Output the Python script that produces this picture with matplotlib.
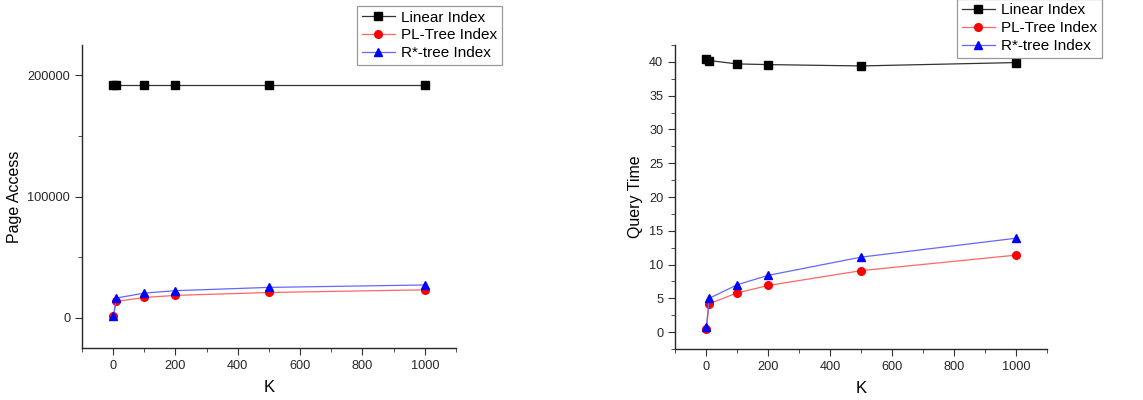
import matplotlib
matplotlib.use("Agg")
import matplotlib.pyplot as plt
from matplotlib.ticker import MultipleLocator

plt.rcParams["font.family"] = ["Liberation Sans", "DejaVu Sans"]

K = [1, 10, 100, 200, 500, 1000]
LABELS = ["Linear Index", "PL-Tree Index", "R*-tree Index"]

# page access
page_linear = [192000, 192000, 192000, 192000, 192000, 192000]
page_pl = [1000, 13400, 16700, 18400, 20800, 23000]
page_rstar = [1500, 16200, 20300, 22300, 25000, 27000]

# query time
time_linear = [40.4, 40.2, 39.7, 39.6, 39.4, 39.9]
time_pl = [0.5, 4.2, 5.8, 6.9, 9.1, 11.4]
time_rstar = [0.7, 5.0, 7.0, 8.4, 11.1, 13.9]

STYLES = [dict(color="#333333", marker="s", mfc="black", mec="black"),
          dict(color="#ff6666", marker="o", mfc="red", mec="red"),
          dict(color="#6666ff", marker="^", mfc="blue", mec="blue")]


def draw(ax, series, ylabel, ylim, major, minor):
    handles = []
    for ys, st, lab in zip(series, STYLES, LABELS):
        h, = ax.plot(K, ys, lw=0.9, ms=5.5, label=lab, **st)
        handles.append(h)
    ax.set_xlim(-100, 1100)
    ax.set_ylim(*ylim)
    ax.xaxis.set_major_locator(MultipleLocator(200))
    ax.xaxis.set_minor_locator(MultipleLocator(100))
    ax.yaxis.set_major_locator(MultipleLocator(major))
    ax.yaxis.set_minor_locator(MultipleLocator(minor))
    for s in ("top", "right"):
        ax.spines[s].set_visible(False)
    for s in ("left", "bottom"):
        ax.spines[s].set_linewidth(1.0)
        ax.spines[s].set_color("0.15")
    ax.tick_params(which="major", direction="out", length=5, labelsize=9.2,
                   color="0.2", labelcolor="0.15")
    ax.tick_params(which="minor", direction="out", length=3, color="0.2")
    ax.set_xlabel("K", fontsize=12, labelpad=6)
    ax.set_ylabel(ylabel, fontsize=11.5)
    return handles


fig = plt.figure(figsize=(11.43, 4.0), dpi=100)
ax1 = fig.add_axes([0.0717, 0.13, 0.3272, 0.7575])
ax2 = fig.add_axes([0.5906, 0.1275, 0.3255, 0.76])

h1 = draw(ax1, [page_linear, page_pl, page_rstar], "Page Access", (-25000, 225000), 100000, 50000)
h2 = draw(ax2, [time_linear, time_pl, time_rstar], "Query Time", (-2.5, 42.5), 5, 2.5)

for handles, anchor in ((h1, (0.3123, 0.985)), (h2, (0.8373, 1.003))):
    leg = fig.legend(handles=handles, loc="upper left", bbox_to_anchor=anchor,
                     fontsize=11, frameon=True, fancybox=False, borderpad=0.3,
                     labelspacing=0.25, handlelength=2.2, handletextpad=0.4,
                     borderaxespad=0)
    leg.get_frame().set_edgecolor("0.5")
    leg.get_frame().set_linewidth(0.9)

fig.savefig("out.png", dpi=100)
